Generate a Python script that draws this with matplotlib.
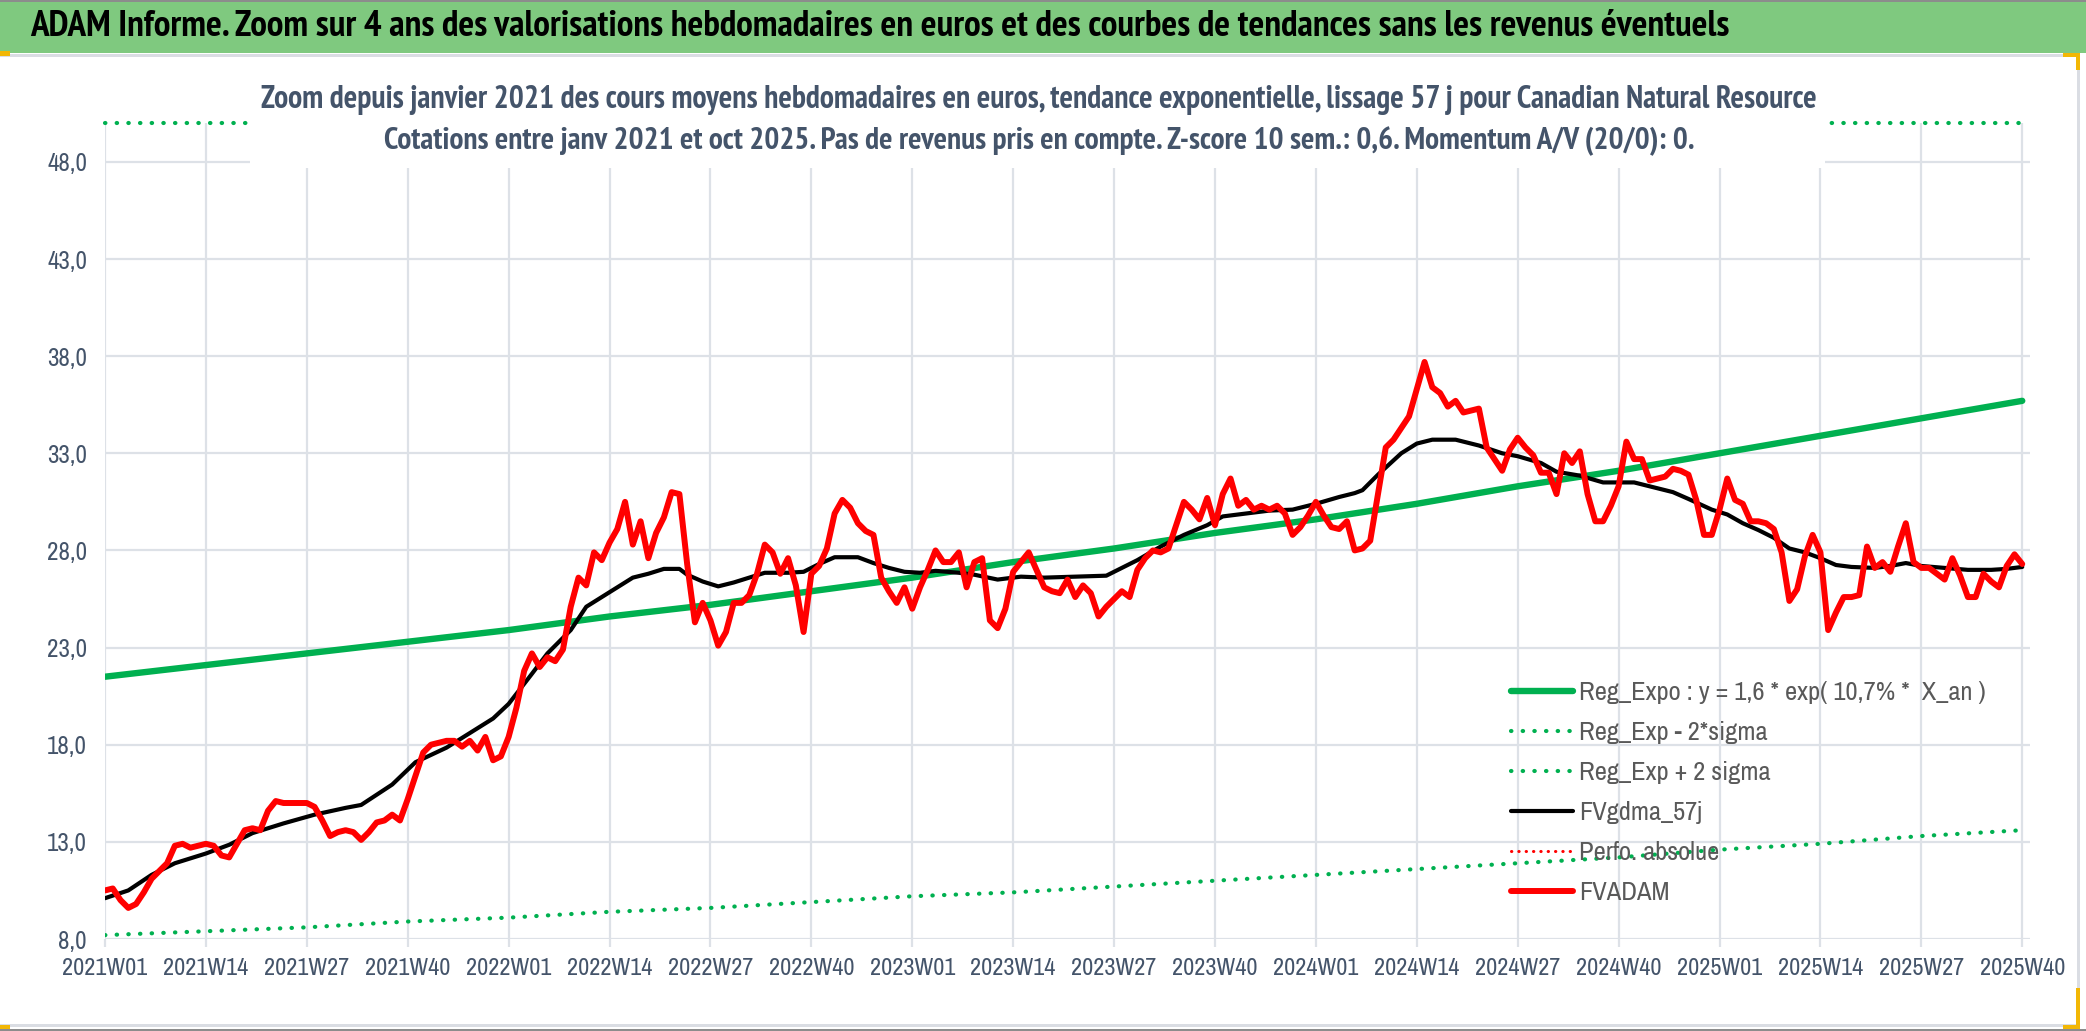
import os
import matplotlib
matplotlib.use('Agg')
import matplotlib.pyplot as plt
from matplotlib import font_manager as fm
from matplotlib.patches import Rectangle

W, H = 2086, 1031

# ---------- data (weekly points, 2021W01 .. 2025W40)

week_labels = ['2021W01', '2021W14', '2021W27', '2021W40', '2022W01', '2022W14', '2022W27',
               '2022W40', '2023W01', '2023W14', '2023W27', '2023W40', '2024W01', '2024W14',
               '2024W27', '2024W40', '2025W01', '2025W14', '2025W27', '2025W40']

fvadam = [10.5, 10.6, 10.0, 9.6, 9.8, 10.4, 11.1, 11.5, 11.9, 12.8,
          12.9, 12.7, 12.8, 12.9, 12.8, 12.3, 12.2, 12.9, 13.6, 13.7,
          13.6, 14.6, 15.1, 15.0, 15.0, 15.0, 15.0, 14.8, 14.1, 13.3,
          13.5, 13.6, 13.5, 13.1, 13.5, 14.0, 14.1, 14.4, 14.1, 15.2,
          16.4, 17.6, 18.0, 18.1, 18.2, 18.2, 17.9, 18.2, 17.7, 18.4,
          17.2, 17.4, 18.4, 19.9, 21.8, 22.7, 22.0, 22.5, 22.3,
          22.9, 25.1, 26.6, 26.2, 27.9, 27.5, 28.4, 29.1, 30.5, 28.3,
          29.5, 27.6, 28.9, 29.7, 31.0, 30.9, 27.3, 24.3, 25.3, 24.4,
          23.1, 23.8, 25.3, 25.3, 25.7, 26.8, 28.3, 27.9, 26.8, 27.6,
          26.2, 23.8, 26.8, 27.2, 28.1, 29.9, 30.6, 30.2, 29.4, 29.0,
          28.8, 26.6, 25.9, 25.3, 26.1, 25.0, 26.1, 27.0, 28.0, 27.4,
          27.4, 27.9, 26.1, 27.4, 27.6, 24.4, 24.0, 25.0, 26.9, 27.4,
          27.9, 27.0, 26.1, 25.9, 25.8, 26.5, 25.6, 26.2, 25.8, 24.6,
          25.1, 25.5, 25.9, 25.6, 27.0, 27.6, 28.0, 27.9, 28.1, 29.3,
          30.5, 30.1, 29.6, 30.7, 29.3, 30.9, 31.7, 30.3, 30.6, 30.1,
          30.3, 30.1, 30.3, 29.9, 28.8, 29.2, 29.8, 30.5, 29.8, 29.2,
          29.1, 29.5, 28.0,
          28.1, 28.5, 30.9, 33.3, 33.7, 34.3, 34.9, 36.3, 37.7, 36.4,
          36.1, 35.4, 35.7, 35.1, 35.2, 35.3, 33.3, 32.7, 32.1, 33.2,
          33.8, 33.3, 32.9, 32.0, 32.0, 30.9, 33.0, 32.5, 33.1, 30.9,
          29.5, 29.5, 30.3, 31.3, 33.6, 32.7, 32.7, 31.6, 31.7, 31.8,
          32.2, 32.1, 31.9, 30.6, 28.8, 28.8, 30.1, 31.7, 30.6, 30.4,
          29.5, 29.5, 29.4, 29.1, 27.9, 25.4, 26.0, 27.7, 28.8, 27.9,
          23.9, 24.8, 25.6, 25.6, 25.7, 28.2, 27.1, 27.4, 26.9, 28.2,
          29.4, 27.4, 27.1, 27.1, 26.8, 26.5, 27.6, 26.7, 25.6, 25.6,
          26.8, 26.4, 26.1, 27.2, 27.8, 27.3]

ma_week = [0, 3, 6, 9, 13, 16, 19, 23, 27, 31, 33, 37, 40, 44, 47, 50, 52, 55, 57, 60,
           62, 65, 68, 70, 72, 74, 75, 77, 79, 81, 83, 85, 88, 90, 92, 94, 97, 99, 101, 103,
           105, 107, 110, 112, 115, 118, 121, 125, 129, 131, 133, 136, 139, 142, 144, 147,
           150, 153, 156, 159, 161, 162, 164, 167, 169, 171, 174, 177, 180, 182, 185, 187,
           190, 193, 197, 199, 202, 204, 207, 209, 211, 213, 215, 217, 219, 221, 223, 225,
           228, 230, 232, 234, 237, 240, 243, 245, 247]
ma_vals = [10.1, 10.5, 11.3, 11.9, 12.4, 12.85, 13.45, 13.95, 14.4, 14.75, 14.9, 15.95,
           17.1, 17.85, 18.6, 19.35, 20.1, 21.65, 22.7, 23.9, 25.1, 25.85, 26.6, 26.8,
           27.05, 27.05, 26.75, 26.4, 26.15, 26.35, 26.6, 26.85, 26.85, 26.9, 27.3, 27.65,
           27.65, 27.35, 27.1, 26.9, 26.85, 26.95, 26.85, 26.75, 26.5, 26.65, 26.6, 26.65,
           26.7, 27.1, 27.5, 28.2, 28.8, 29.3, 29.75, 29.9, 30.05, 30.1, 30.4, 30.75, 30.95,
           31.1, 31.9, 33.0, 33.5, 33.7, 33.7, 33.4, 33.0, 32.85, 32.5, 32.05, 31.85, 31.5,
           31.5, 31.3, 31.0, 30.65, 30.1, 29.85, 29.4, 29.05, 28.65, 28.1, 27.9, 27.6, 27.25,
           27.15, 27.1, 27.2, 27.35, 27.2, 27.1, 27.0, 27.0, 27.05, 27.15]

# trend and bands, read at each labelled week
trend_week = list(range(0, 248, 13))
reg_expo = [21.5, 22.1, 22.7, 23.3, 23.9, 24.6, 25.2, 25.9, 26.6, 27.4,
            28.1, 28.9, 29.6, 30.4, 31.3, 32.1, 33.0, 33.9, 34.8, 35.7]
reg_low = [8.2, 8.4, 8.6, 8.9, 9.1, 9.4, 9.6, 9.9, 10.2, 10.4,
           10.7, 11.0, 11.3, 11.6, 11.9, 12.2, 12.6, 12.9, 13.3, 13.6]
reg_high = [50.0] * 20   # above the axis, shown on its top edge

y_ticks = [8, 13, 18, 23, 28, 33, 38, 43, 48]

title = "ADAM Informe. Zoom sur 4 ans des valorisations hebdomadaires en euros et des courbes de tendances sans les revenus éventuels"
sub1 = "Zoom depuis janvier 2021 des cours moyens hebdomadaires en euros, tendance exponentielle, lissage 57 j pour Canadian Natural Resource"
sub2 = "Cotations entre janv 2021 et oct 2025. Pas de revenus pris en compte. Z-score 10 sem.: 0,6. Momentum A/V (20/0): 0."
legend_labels = ['Reg_Expo : y = 1,6 * exp( 10,7% *  X_an )', 'Reg_Exp - 2*sigma',
                 'Reg_Exp + 2 sigma', 'FVgdma_57j', 'Perfo. absolue', 'FVADAM']

SLATE = '#44546A'
GRID = '#DDE1E7'
GREEN = '#00B050'


# ---------- a narrow sans face if the box has one (the original is Calibri)

def narrow_font(bold):
	best = None
	for f in fm.fontManager.ttflist:
		n = f.name.lower()
		if f.style != 'normal' or any(k in n for k in ('mono', 'serif', 'cjk', 'math')):
			continue
		key = (n + ' ' + str(f.stretch) + ' ' + os.path.basename(f.fname)).lower()
		if 'narrow' in key:
			rank = 0
		elif 'semi' in key and 'condensed' in key:
			rank = 2
		elif 'extra' in key or 'ultra' in key:
			rank = 3
		elif 'condensed' in key:
			rank = 1
		else:
			continue
		w = f.weight
		if isinstance(w, str):
			w = fm.weight_dict.get(w, 400)
		if bold and not 600 <= w <= 800:
			continue
		if not bold and not 350 <= w <= 500:
			continue
		if best is None or rank < best[0]:
			best = (rank, f.fname)
	if best:
		return fm.FontProperties(fname=best[1])
	return fm.FontProperties(family='DejaVu Sans', weight='bold' if bold else 'normal')


fp_reg = narrow_font(False)
fp_bold = narrow_font(True)

fig = plt.figure(figsize=(W / 100, H / 100), dpi=100)
fig.patch.set_facecolor('white')
r = fig.canvas.get_renderer()


def fit_size(s, fp, target_px):
	t = fig.text(0, 0, s)
	t.set_fontproperties(fp)
	t.set_fontsize(20)
	w = t.get_window_extent(r).width
	t.remove()
	return 20 * target_px / w


def sized(fp, size):
	p = fp.copy()
	p.set_size(size)
	return p


def px_rect(x0, y0, x1, y1, color, z=3):
	fig.add_artist(Rectangle((x0 / W, 1 - y1 / H), (x1 - x0) / W, (y1 - y0) / H,
							 transform=fig.transFigure, facecolor=color, lw=0, zorder=z))


ax = fig.add_axes([105 / W, 1 - 939 / H, (2030 - 105) / W, (939 - 123) / H])
ax.set_zorder(1)

dots = (0, (0.1, 2.7))
ax.plot(trend_week, reg_expo, color=GREEN, lw=4.6, solid_capstyle='round', label=legend_labels[0])
ax.plot(trend_week, reg_low, color=GREEN, lw=3.0, ls=dots, dash_capstyle='round', label=legend_labels[1])
ax.plot(trend_week, reg_high, color=GREEN, lw=3.0, ls=dots, dash_capstyle='round',
		clip_on=False, label=legend_labels[2])
ax.plot(ma_week, ma_vals, color='black', lw=3.0, solid_joinstyle='round',
		solid_capstyle='round', label=legend_labels[3])
ax.plot([], [], color='#FF0000', lw=2.2, ls=(0, (0.1, 2.3)), dash_capstyle='round',
		label=legend_labels[4])
ax.plot(range(len(fvadam)), fvadam, color='#FF0000', lw=4.3, solid_joinstyle='round',
		solid_capstyle='round', label=legend_labels[5])

ax.set_xlim(0, 248)
ax.set_ylim(8, 50)
ax.set_xticks(trend_week)
ax.set_xticklabels(week_labels)
ax.set_yticks(y_ticks)
ax.set_yticklabels([('%.1f' % v).replace('.', ',') for v in y_ticks])
ax.grid(True, color=GRID, lw=1.6)
ax.set_axisbelow(True)
for s in ax.spines.values():
	s.set_visible(False)
ax.tick_params(axis='x', length=6, width=1.6, color=GRID, pad=8, labelcolor=SLATE)
ax.tick_params(axis='y', length=0, pad=13, labelcolor=SLATE)

fp_x = sized(fp_reg, fit_size('2021W01', fp_reg, 85))
fp_y = sized(fp_reg, fit_size('48,0', fp_reg, 40))
for lbl in ax.get_xticklabels():
	lbl.set_fontproperties(fp_x)
for lbl in ax.get_yticklabels():
	lbl.set_fontproperties(fp_y)

# legend: fit text width, then tune row spacing (40 px) and first row centre (y=693)
fp_leg = sized(fp_reg, fit_size(legend_labels[0], fp_reg, 407))
fs_px = fp_leg.get_size_in_points() * 100 / 72
spacing = 0.6
anchor_y = 678


def make_legend():
	return ax.legend(loc='upper left', bbox_to_anchor=(1511 / W, 1 - anchor_y / H),
					 bbox_transform=fig.transFigure, frameon=False, prop=fp_leg,
					 borderpad=0, borderaxespad=0, handlelength=62 / fs_px,
					 handletextpad=6 / fs_px, labelspacing=spacing, labelcolor='#595959')


for it in range(3):
	leg = make_legend()
	fig.canvas.draw()
	ys = [H - t.get_window_extent(r).intervaly.mean() for t in leg.get_texts()]
	row = (ys[-1] - ys[0]) / 5
	spacing += (40 - row) / fs_px
	anchor_y += 693 - ys[0]
	leg.remove()
leg = make_legend()

# ---------- header band, subtitle box and frame

px_rect(0, 0, W, 53, '#7FC97F')
px_rect(0, 0, W, 2, '#8C8C8C')
px_rect(0, 54, 2080, 57, '#DADDE3')
px_rect(2077, 54, 2080, 1027, '#DADDE3')
px_rect(0, 1024, 2080, 1027, '#DADDE3')
px_rect(0, 1029, W, H, '#8C8C8C')
px_rect(250, 58, 1825, 168, 'white', z=2)
# excel selection marks
px_rect(0, 51, 10, 56, '#F2B705')
px_rect(2063, 53, 2080, 57, '#F2B705')
px_rect(2076, 53, 2080, 70, '#F2B705')
px_rect(2076, 988, 2080, 1029, '#F2B705')
px_rect(2063, 1025, 2080, 1029, '#F2B705')
px_rect(0, 1025, 10, 1029, '#F2B705')

fp_t0 = sized(fp_bold, fit_size(title, fp_bold, 1700))
fp_t1 = sized(fp_bold, fit_size(sub1, fp_bold, 1560))
fp_t2 = sized(fp_bold, fit_size(sub2, fp_bold, 1315))
fig.text(30 / W, 1 - 27 / H, title, ha='left', va='center', fontproperties=fp_t0,
		 color='black', zorder=4)
fig.text(1039 / W, 1 - 100 / H, sub1, ha='center', va='center', fontproperties=fp_t1,
		 color=SLATE, zorder=4)
fig.text(1039 / W, 1 - 141 / H, sub2, ha='center', va='center', fontproperties=fp_t2,
		 color=SLATE, zorder=4)

fig.savefig('out.png', dpi=100, facecolor='white')
